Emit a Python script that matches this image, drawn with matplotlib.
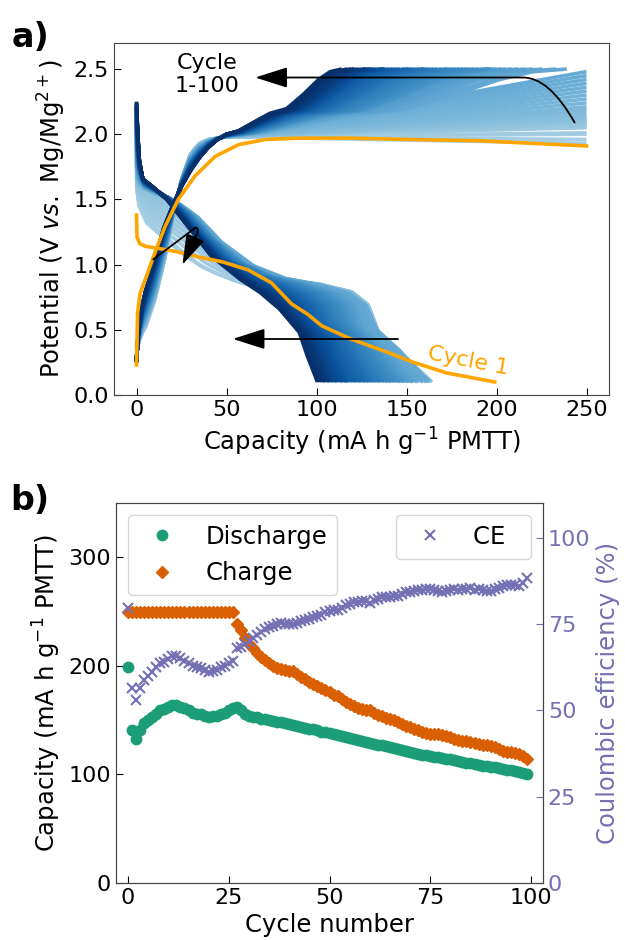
import numpy as np
import matplotlib
matplotlib.use("Agg")
import matplotlib.pyplot as plt
from matplotlib.path import Path
from matplotlib.patches import FancyArrowPatch

# ---------------- data (panel b) ----------------
cycle_number = list(range(100))
discharge_cap = [199, 141, 132.5, 141, 147, 150, 153, 156, 159, 160,
                 162, 164, 164, 162.5, 161, 159, 157, 156, 155.5, 154,
                 153, 153.5, 154, 156, 157, 159, 161, 162.5, 159, 156,
                 154, 153, 152.5, 151.5, 151, 150, 149, 148.5, 148, 147,
                 146.5, 146, 145, 144, 143, 142, 141.5, 140.5, 139.5, 139,
                 138, 137, 136, 135, 134.5, 133.5, 132.5, 131.5, 130.5, 130,
                 129, 128.5, 127.5, 127, 126, 125, 124.5, 123.5, 122.5, 122,
                 121, 120, 119, 118, 117.5, 117, 116.5, 116, 115, 114.5,
                 114, 113, 112, 111.5, 111, 110.5, 109.5, 109, 108, 107.5,
                 107, 106.5, 105.5, 105, 104.5, 104, 103, 102, 101.5, 100.5]
charge_cap = [250] * 27 + [239, 233, 225.5,
              220, 216, 212, 208.5, 205, 202.5, 200, 198, 197, 196,
              195.5, 195, 192.5, 190, 187.5, 185.5, 183.5, 181.5, 179.5, 177.5,
              175.5, 173.5, 172, 169.5, 167, 165, 163, 161.5, 160, 159.5,
              159, 157, 155, 153.5, 152, 151, 150, 148.5, 146.5, 145,
              143.5, 142, 140.5, 139, 138, 137.5, 137.5, 137, 136.5, 135.5,
              134.5, 133, 132, 131, 130.5, 129.5, 129, 128, 127.5, 127,
              126.5, 125, 123.5, 122, 121, 120.5, 119.5, 118.5, 117, 114]
coulombic_eff = (np.array(discharge_cap) / np.array(charge_cap) * 100).tolist()

# ---------------- data (panel a) ----------------
# cycle 1 (orange)
c1_chg_q = [0, 0.6, 2, 4.7, 10.2, 15.8, 23.2, 32.5, 43.7, 56.7, 71.6, 90, 120, 150, 190, 220, 250]
c1_chg_v = [0.23, 0.63, 0.78, 0.88, 1.09, 1.29, 1.50, 1.68, 1.83, 1.92, 1.96, 1.97, 1.97, 1.96, 1.95, 1.93, 1.91]
c1_dis_q = [0, 0.3, 1.9, 5, 12, 22, 34, 48, 62, 75, 86, 95, 103, 119, 137, 154, 172, 199]
c1_dis_v = [1.38, 1.21, 1.16, 1.14, 1.125, 1.1, 1.06, 1.02, 0.96, 0.86, 0.70, 0.62, 0.53, 0.43, 0.34, 0.25, 0.17, 0.10]

# charge, low-voltage part (absolute capacity), early (light) and late (dark) cycles
chg_low_q = [0, 1, 3, 5, 8, 10, 15, 20, 25, 30, 35, 40, 45, 50]
chg_low_early_v = [0.30, 0.40, 0.47, 0.52, 0.64, 0.72, 1.00, 1.35, 1.65, 1.85, 1.93, 1.96, 1.97, 1.98]
chg_low_late_v = [0.25, 0.50, 0.68, 0.80, 0.93, 1.03, 1.28, 1.45, 1.60, 1.72, 1.82, 1.90, 1.96, 2.00]
# charge, high-voltage part (fraction of the way from 50 mAh/g to end of charge)
chg_up_s = [0, 0.1, 0.25, 0.375, 0.52, 0.66, 0.8, 0.9, 1.0]
chg_up_f = [0, 0.05, 0.2, 0.32, 0.39, 0.6, 0.84, 0.96, 1.0]
# end-of-charge potential for cycles 2..27 (capped at 250 mAh/g)
chg_end_v = [2.00, 1.96, 1.93, 2.01, 2.05, 2.06, 2.07, 2.08, 2.09, 2.10,
             2.11, 2.12, 2.13, 2.15, 2.17, 2.19, 2.21, 2.24, 2.27, 2.30,
             2.33, 2.36, 2.39, 2.42, 2.45, 2.48]

# discharge shapes vs. fraction of discharge capacity: early, mid, late
dis_A_u = [0, 0.01, 0.04, 0.11, 0.185, 0.26, 0.33, 0.44, 0.52, 0.67, 0.81, 0.93, 1.0]
dis_A_v = [1.60, 1.45, 1.32, 1.20, 1.08, 0.98, 0.92, 0.85, 0.82, 0.75, 0.55, 0.30, 0.10]
dis_B_u = [0, 0.006, 0.07, 0.13, 0.21, 0.29, 0.40, 0.51, 0.62, 0.73, 0.785, 0.82, 0.89, 1.0]
dis_B_v = [1.75, 1.60, 1.54, 1.48, 1.35, 1.15, 0.97, 0.88, 0.85, 0.79, 0.69, 0.48, 0.33, 0.10]
dis_C_u = [0, 0.007, 0.015, 0.033, 0.078, 0.167, 0.28, 0.41, 0.57, 0.68, 0.79, 0.90, 0.944, 1.0]
dis_C_v = [2.25, 2.00, 1.81, 1.66, 1.61, 1.50, 1.30, 1.07, 0.89, 0.79, 0.66, 0.48, 0.30, 0.10]

x_ticks_a = [0, 50, 100, 150, 200, 250]
y_ticks_a = [0.0, 0.5, 1.0, 1.5, 2.0, 2.5]
x_ticks_b = [0, 25, 50, 75, 100]
y_ticks_b = [0, 100, 200, 300]
y_ticks_ce = [0, 25, 50, 75, 100]

FS_TICK = 16
FS_LAB = 17.5
c_dis = "#1b9e77"
c_chg = "#d95f02"
c_ce = "#7570b3"

fig = plt.figure(figsize=(6.25, 9.4), dpi=100)

# ======================= panel a =======================
ax = fig.add_axes([0.1824, 0.5798, 0.792, 0.3745])
cmap = plt.cm.Blues
n = len(discharge_cap)
ugrid = np.linspace(0, 1, 200)
sgrid = np.linspace(0, 1, 120)
A = np.interp(ugrid, dis_A_u, dis_A_v)
B = np.interp(ugrid, dis_B_u, dis_B_v)
C = np.interp(ugrid, dis_C_u, dis_C_v)
qlow = np.linspace(0, 50, 80)
low_e = np.interp(qlow, chg_low_q, chg_low_early_v)
low_l = np.interp(qlow, chg_low_q, chg_low_late_v)
fup = np.interp(sgrid, chg_up_s, chg_up_f)

for i in range(1, n):
    t = (i - 1) / (n - 2)
    col = cmap(0.35 + 0.65 * t)
    # charge
    vlow = (1 - t) * low_e + t * low_l
    v0 = vlow[-1]
    if charge_cap[i] < 250:
        qu = 50 + sgrid * (charge_cap[i] - 50)
        vu = v0 + (2.5 - v0) * fup
    else:
        qu = 50 + sgrid * (250 - 50)
        vu = v0 + (chg_end_v[i - 1] - v0) * sgrid
    qc = np.concatenate([qlow, qu[1:]])
    vc = np.concatenate([vlow, vu[1:]])
    ax.plot(qc, vc, color=col, lw=2.6, solid_capstyle="butt")
    # discharge
    if i <= 11:
        w = (i - 1) / 10
        vd = (1 - w) * A + w * B
    else:
        w = (i - 11) / (n - 12)
        vd = (1 - w) * B + w * C
    ax.plot(ugrid * discharge_cap[i], vd, color=col, lw=2.6, solid_capstyle="butt")

ax.plot(c1_chg_q, c1_chg_v, color="orange", lw=2.6)
ax.plot(c1_dis_q, c1_dis_v, color="orange", lw=2.6)

ax.set_xlim(-12.5, 262.5)
ax.set_ylim(0, 2.7)
ax.set_xticks(x_ticks_a)
ax.set_yticks(y_ticks_a)
ax.set_yticklabels([f"{v:.1f}" for v in y_ticks_a])
ax.tick_params(direction="in", labelsize=FS_TICK, length=5)
ax.set_xlabel("Capacity (mA h g$^{-1}$ PMTT)", fontsize=FS_LAB)
ax.set_ylabel("Potential (V $\\it{vs.}$ Mg/Mg$^{2+}$)", fontsize=FS_LAB)
for s in ax.spines.values():
    s.set_color("#444444")

# annotations
ax.text(39, 2.46, "Cycle\n1-100", ha="center", va="center", fontsize=16)
ax.text(184, 0.26, "Cycle 1", color="orange", fontsize=16, rotation=-11,
        ha="center", va="center")

def add_arrow(verts, codes, hl=1.0, hw=0.32):
    p = Path(verts, codes)
    ax.add_patch(FancyArrowPatch(path=p, arrowstyle=f"-|>,head_length={hl},head_width={hw}",
                                 mutation_scale=20, color="black", lw=1.3, zorder=5))

add_arrow([(243.4, 2.09), (229, 2.44), (214.5, 2.435), (66, 2.435)],
          [Path.MOVETO, Path.CURVE3, Path.CURVE3, Path.LINETO])
add_arrow([(145.5, 0.43), (53.5, 0.43)], [Path.MOVETO, Path.LINETO])
add_arrow([(9.3, 1.04), (31.5, 1.27), (34, 1.31), (35, 1.25), (33, 1.22), (25.5, 1.0)],
          [Path.MOVETO, Path.LINETO, Path.CURVE4, Path.CURVE4, Path.CURVE4, Path.LINETO],
          hl=0.95, hw=0.3)

fig.text(0.018, 0.978, "a)", fontsize=24, fontweight="bold", va="top")

# ======================= panel b =======================
bx = fig.add_axes([0.1856, 0.0606, 0.6832, 0.4043])
bx.plot(cycle_number, discharge_cap, ls="none", marker="o", ms=7.5, color=c_dis, label="Discharge")
bx.plot(cycle_number, charge_cap, ls="none", marker="D", ms=6.5, color=c_chg, label="Charge")
bx.set_xlim(-3, 103)
bx.set_ylim(0, 350)
bx.set_xticks(x_ticks_b)
bx.set_yticks(y_ticks_b)
bx.tick_params(direction="in", labelsize=FS_TICK, length=5)
bx.set_xlabel("Cycle number", fontsize=FS_LAB)
bx.set_ylabel("Capacity (mA h g$^{-1}$ PMTT)", fontsize=FS_LAB)
bx.legend(loc="upper left", fontsize=FS_LAB)

bx2 = bx.twinx()
bx2.plot(cycle_number, coulombic_eff, ls="none", marker="x", ms=7, mew=1.5, color=c_ce, label="CE  ")
bx2.set_ylim(0, 110)
bx2.set_yticks(y_ticks_ce)
bx2.tick_params(direction="in", labelsize=FS_TICK, length=5, colors=c_ce)
bx2.set_ylabel("Coulombic efficiency (%)", fontsize=FS_LAB, color=c_ce)
bx2.legend(loc="upper right", fontsize=FS_LAB)
for s in list(bx.spines.values()) + list(bx2.spines.values()):
    s.set_color("#444444")

fig.text(0.016, 0.485, "b)", fontsize=24, fontweight="bold", va="top")

fig.savefig("out.png", dpi=100)
